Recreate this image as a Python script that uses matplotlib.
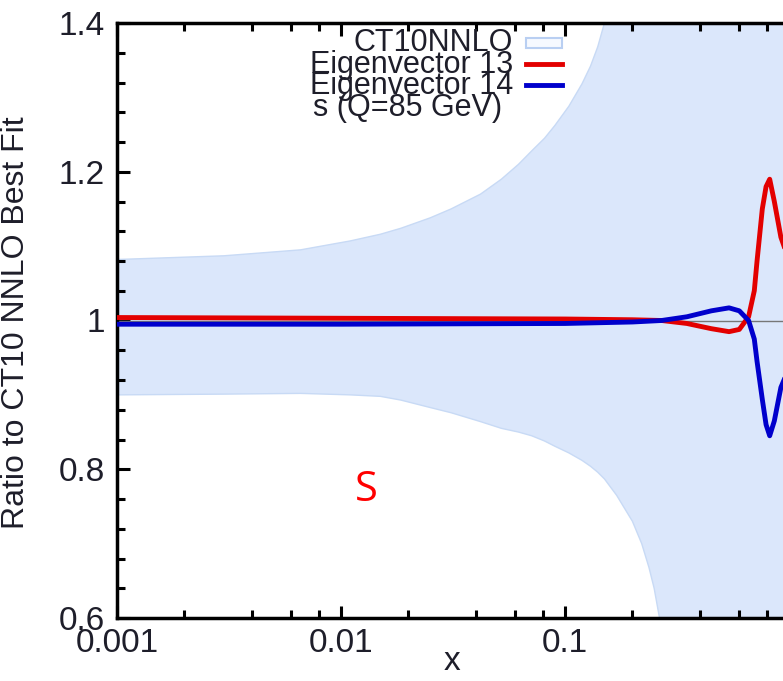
import numpy as np
import matplotlib.pyplot as plt
from matplotlib.ticker import FixedLocator, NullFormatter, MultipleLocator

plt.switch_backend('Agg')
plt.rcParams['font.family'] = ['Liberation Sans', 'DejaVu Sans']
plt.rcParams['font.size'] = 24

# CT10NNLO uncertainty band (ratio to best fit)
band_x = [0.001, 0.003, 0.0066, 0.011, 0.015, 0.0185, 0.025, 0.031, 0.042, 0.052,
          0.062, 0.071, 0.081, 0.09, 0.104, 0.119, 0.13, 0.14, 0.15, 0.17, 0.2, 0.22,
          0.237, 0.25, 0.262, 0.28, 0.3, 0.35, 0.5, 1.0]
band_hi = [1.082, 1.087, 1.095, 1.107, 1.116, 1.124, 1.138, 1.150, 1.170, 1.190,
           1.210, 1.228, 1.245, 1.262, 1.288, 1.318, 1.342, 1.368, 1.400, 1.47, 1.58, 1.66,
           1.73, 1.80, 1.86, 1.95, 2.05, 2.30, 3.0, 4.0]
band_lo = [0.900, 0.901, 0.902, 0.900, 0.898, 0.893, 0.883, 0.876, 0.864, 0.855,
           0.850, 0.845, 0.838, 0.831, 0.822, 0.812, 0.804, 0.796, 0.787, 0.765, 0.730, 0.700,
           0.668, 0.640, 0.606, 0.560, 0.510, 0.380, 0.0, -1.0]

# eigenvector 13 / 14 curves
ev_x = [0.001, 0.01, 0.1, 0.2, 0.27, 0.35, 0.45, 0.54, 0.6, 0.66, 0.70, 0.72, 0.76,
        0.79, 0.82, 0.86, 0.92, 0.95]
ev13 = [1.004, 1.003, 1.002, 1.001, 1.000, 0.996, 0.989, 0.985, 0.988, 1.005, 1.040, 1.080, 1.150,
        1.180, 1.190, 1.160, 1.112, 1.100]
ev14 = [0.995, 0.995, 0.996, 0.998, 1.000, 1.005, 1.013, 1.017, 1.013, 1.000, 0.975, 0.945, 0.894,
        0.860, 0.845, 0.865, 0.910, 0.920]

BAND_COLOR = '#dbe7fb'
TEXT_COLOR = '#1e1e2a'

W, H = 783, 681
fig = plt.figure(figsize=(W / 100, H / 100), dpi=100)
L, R, T, B = 117, 783, 23, 618
ax = fig.add_axes([L / W, (H - B) / H, (R - L) / W, (B - T) / H])

ax.fill_between(band_x, band_lo, band_hi, color=BAND_COLOR, edgecolor='#c8daf5', lw=1, zorder=1)
ax.axhline(1.0, color='#777777', lw=1, zorder=2)
ax.plot(ev_x, ev13, color='#e30000', lw=3.5, zorder=3)
ax.plot(ev_x, ev14, color='#0000cc', lw=3.5, zorder=3)

ax.set_xscale('log')
ax.set_xlim(0.001, 10 ** (-3 + (R - L) / 224))
ax.set_ylim(0.6, 1.4)

ax.xaxis.set_major_locator(FixedLocator([0.001, 0.01, 0.1]))
ax.set_xticklabels(['0.001', '0.01', '0.1'])
ax.xaxis.set_minor_locator(FixedLocator([m * 10.0 ** e for e in (-3, -2, -1) for m in (2, 4, 6, 8)]))
ax.xaxis.set_minor_formatter(NullFormatter())
ax.yaxis.set_major_locator(FixedLocator([0.6, 0.8, 1.0, 1.2, 1.4]))
ax.set_yticklabels(['0.6', '0.8', '1', '1.2', '1.4'])
ax.yaxis.set_minor_locator(MultipleLocator(0.04))

ax.tick_params(which='both', direction='in', width=2.2, top=True, right=False,
               colors='black', labelcolor=TEXT_COLOR)
ax.tick_params(which='major', length=9)
ax.tick_params(which='minor', length=6)
ax.tick_params(axis='y', pad=9)
ax.tick_params(axis='x', pad=7)

for side in ('left', 'bottom', 'top'):
    ax.spines[side].set_linewidth(2.5)
ax.spines['right'].set_visible(False)

ax.set_ylabel('Ratio to CT10 NNLO Best Fit', color=TEXT_COLOR, fontsize=23)
ax.yaxis.set_label_coords((31 - L) / (R - L), 0.497)
ax.set_xlabel('x', color=TEXT_COLOR)
ax.xaxis.set_label_coords((452 - L) / (R - L), (B - 646) / (B - T))

# key, stacked tightly at top
def ax_pt(px, py):
    return (px - L) / (R - L), (B - py) / (B - T)

key_labels = ['CT10NNLO', 'Eigenvector 13', 'Eigenvector 14', 's (Q=85 GeV)']
key_rows = [43, 65, 86, 108]
for lab, py in zip(key_labels, key_rows):
    tx = 502 if lab.startswith('s ') else 513
    ax.text(*ax_pt(tx, py), lab, transform=ax.transAxes, ha='right', va='center',
            color=TEXT_COLOR, fontsize=22, zorder=5)

x0, _ = ax_pt(526, 0)
x1, _ = ax_pt(562, 0)
_, yk0 = ax_pt(0, 48)
_, yk1 = ax_pt(0, 38)
ax.fill([x0, x1, x1, x0], [yk0, yk0, yk1, yk1], transform=ax.transAxes,
        facecolor='#f6f9ff', edgecolor='#b9cff2', lw=1.5, zorder=5)
ax.plot([x0, x1], [ax_pt(0, 64)[1]] * 2, transform=ax.transAxes, color='#e30000', lw=3.5, zorder=5)
ax.plot([x0, x1], [ax_pt(0, 85)[1]] * 2, transform=ax.transAxes, color='#0000cc', lw=3.5, zorder=5)

fig.text(366 / W, 1 - 490 / H, 'S', color='red', fontsize=30, family='Open Sans',
         ha='center', va='center')

fig.savefig('out.png', dpi=100)
plt.close(fig)
